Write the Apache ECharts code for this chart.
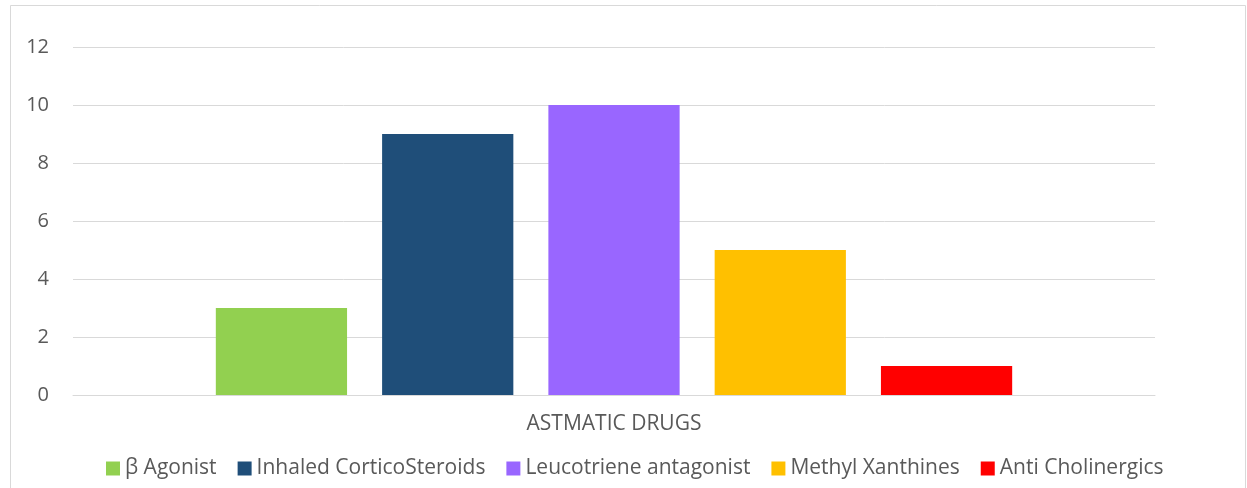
<!DOCTYPE html>
<html>
<head>
<meta charset="utf-8">
<script src="https://cdn.jsdelivr.net/npm/echarts@6/dist/echarts.min.js"></script>
<style>
  html, body { margin: 0; padding: 0; background: #fff; }
  #chart { width: 1247px; height: 488px; }
</style>
</head>
<body>
<div id="chart"></div>
<script>
// Asthmatic drug usage counts, one category with one series per drug class
const categories = ['ASTMATIC DRUGS'];
const seriesNames = ['β Agonist', 'Inhaled CorticoSteroids', 'Leucotriene antagonist', 'Methyl Xanthines', 'Anti Cholinergics'];
const seriesValues = [3, 9, 10, 5, 1];
const seriesColors = ['#92D050', '#1F4E79', '#9966FF', '#FFC000', '#FF0000'];
const yTicks = [0, 2, 4, 6, 8, 10, 12];

const textColor = '#595959';
const fontFamily = '"Open Sans", "Noto Sans", sans-serif';

const chart = echarts.init(document.getElementById('chart'));

chart.setOption({
  backgroundColor: '#fff',
  animation: false,
  textStyle: { fontFamily: fontFamily, color: textColor },
  graphic: [{
    type: 'rect',
    shape: { x: 10.5, y: 5.5, width: 1235, height: 520 },
    style: { fill: 'none', stroke: '#d9d9d9', lineWidth: 1 },
    silent: true
  }],
  grid: { left: 73, right: 92, top: 47, bottom: 93, containLabel: false },
  legend: {
    bottom: 4,
    left: 101,
    itemWidth: 14,
    itemHeight: 14,
    itemGap: 21,
    icon: 'rect',
    textStyle: { fontSize: 21, color: textColor, fontFamily: fontFamily },
    data: seriesNames
  },
  xAxis: {
    type: 'category',
    data: categories,
    axisLine: { show: true, lineStyle: { color: '#d9d9d9', width: 1 } },
    axisTick: { show: false },
    axisLabel: { fontSize: 21, color: textColor, margin: 19, fontFamily: fontFamily }
  },
  yAxis: {
    type: 'value',
    min: yTicks[0],
    max: yTicks[yTicks.length - 1],
    interval: 2,
    axisLine: { show: false },
    axisTick: { show: false },
    splitLine: { lineStyle: { color: '#d9d9d9', width: 1 } },
    axisLabel: { fontSize: 20, color: textColor, margin: 24, fontFamily: fontFamily }
  },
  series: seriesNames.map((name, i) => ({
    name: name,
    type: 'bar',
    data: [seriesValues[i]],
    barGap: '26.7%',
    barCategoryGap: '26.4%',
    itemStyle: { color: seriesColors[i] }
  }))
});
</script>
</body>
</html>
